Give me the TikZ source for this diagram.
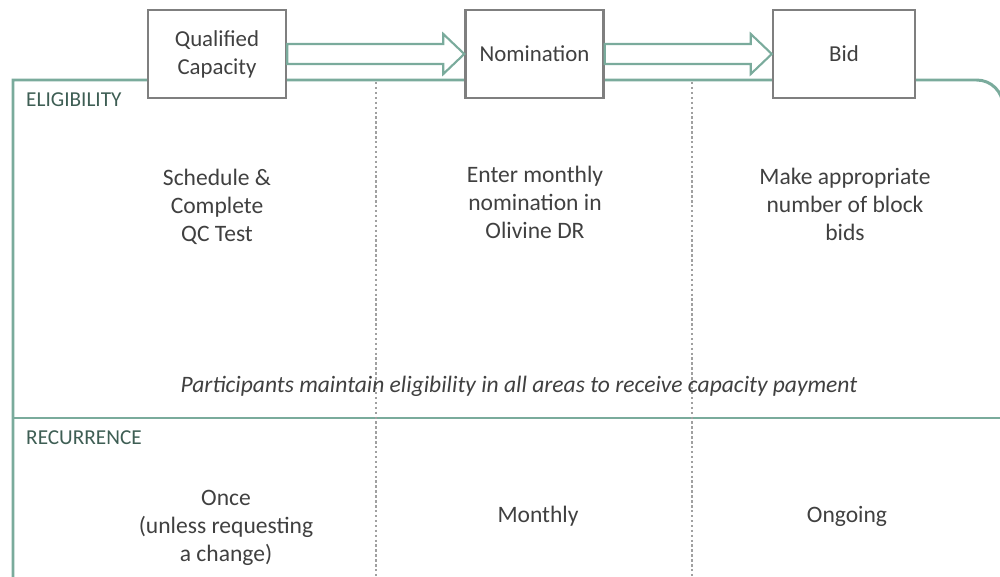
\documentclass[tikz,border=0pt]{standalone}
\usepackage{fontspec}
\setmainfont{Carlito}
\usetikzlibrary{calc}
\definecolor{frameteal}{HTML}{7AAB9C}
\definecolor{boxgray}{HTML}{7F7F7F}
\definecolor{textgray}{HTML}{404040}
\definecolor{labelgreen}{HTML}{3E5E54}
\definecolor{dotgray}{HTML}{A0A0A0}
\tikzset{
  stepbox/.style={draw=boxgray, line width=1.4pt, fill=white, minimum width=2.76cm,
    minimum height=1.76cm, text=textgray, align=center, font=\fontsize{13}{15.9}\selectfont},
  bodytext/.style={text=textgray, align=center, font=\fontsize{13.4}{15.9}\selectfont},
  sectionlabel/.style={text=labelgreen, anchor=west, font=\fontsize{12.1}{14}\selectfont},
  frameline/.style={draw=frameteal, line width=1.7pt},
  flowline/.style={draw=frameteal, line width=1.2pt, fill=white, line join=miter},
  divider/.style={draw=dotgray, dash pattern=on 1.4pt off 1.4pt, line width=0.7pt}
}
\newcommand{\flowarrow}[2]{%
  \draw[flowline] ($(#1.east)+(0,-10)$) -- ($(#2.west)+(-21,-10)$) -- ($(#2.west)+(-21,-20)$)
    -- (#2.west) -- ($(#2.west)+(-21,20)$) -- ($(#2.west)+(-21,10)$) -- ($(#1.east)+(0,10)$) -- cycle;}
\begin{document}
\begin{tikzpicture}[x=0.02cm,y=-0.02cm]
  \useasboundingbox (0,0) rectangle (1000,577);
  \clip (0,0) rectangle (1000,577);
  % outer frame and row divider
  \draw[frameline] (13,590) -- (13,80) -- (600,80) [rounded corners=15] -- (1003,80) -- (1003,590);
  \draw[frameline] (13,418) -- (1010,418);
  % column dividers
  \draw[divider] (376,82) -- (376,580);
  \draw[divider] (692,82) -- (692,580);
  % steps
  \node[stepbox] (qc) at (217,54) {Qualified\\Capacity};
  \node[stepbox] (nom) at (534.5,54) {Nomination};
  \node[stepbox, minimum width=2.84cm] (bid) at (844,54) {Bid};
  \flowarrow{qc}{nom}
  \flowarrow{nom}{bid}
  % eligibility row
  \node[sectionlabel] (elig) at (20,100) {ELIGIBILITY};
  \node[bodytext] (qcstep) at (217,207) {Schedule \&\\Complete\\QC Test};
  \node[bodytext] (nomstep) at (535,202) {Enter monthly\\nomination in\\Olivine DR};
  \node[bodytext] (bidstep) at (845,204) {Make appropriate\\number of block\\bids};
  \node[bodytext, font=\fontsize{13.4}{15.9}\selectfont\itshape] (note) at (519,386)
    {Participants maintain eligibility in all areas to receive capacity payment};
  % recurrence row
  \node[sectionlabel] (recur) at (20,438) {RECURRENCE};
  \node[bodytext] (qcfreq) at (226,528) {Once\\(unless requesting\\a change)};
  \node[bodytext] (nomfreq) at (538,516) {Monthly};
  \node[bodytext] (bidfreq) at (847,516) {Ongoing};
\end{tikzpicture}
\end{document}
